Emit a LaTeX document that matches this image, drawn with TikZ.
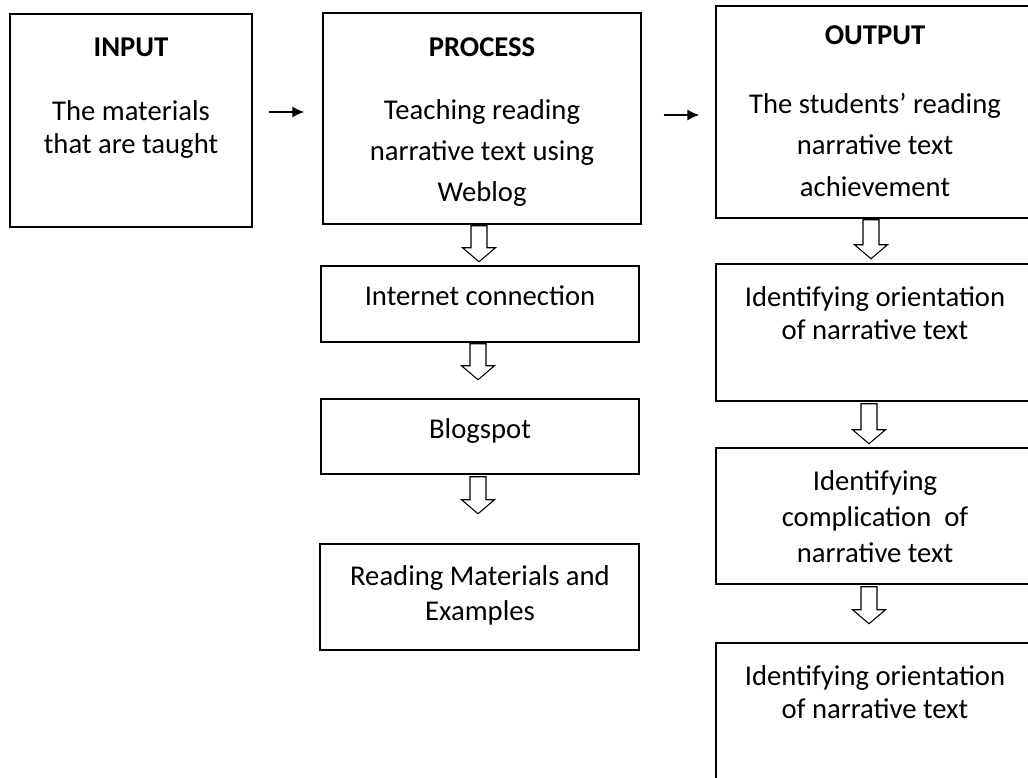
\documentclass[tikz,border=0pt]{standalone}
\usepackage{fontspec}
\setmainfont{Carlito}
\usetikzlibrary{fit,arrows.meta}
\tikzset{
  box/.style={draw, line width=1.1pt, inner sep=0pt},
  txt/.style={align=center, inner sep=0pt, execute at begin node=\strut, execute at end node=\strut},
  head/.style={anchor=base, inner sep=0pt, font=\fontsize{21.5}{26}\selectfont\bfseries},
  line/.style={anchor=base, inner sep=0pt, font=\fontsize{21.5}{26}\selectfont},
  flow/.style={line width=1.4pt, -{Latex[length=9pt,width=8.5pt]}},
  hollow/.style={line width=0.8pt, line join=miter}
}
\newcommand\fs[1]{\fontsize{21.5}{#1}\selectfont}
% hollow down arrow: #1 top point, #2 length
\newcommand\hollowarrow[2]{%
  \draw[hollow] (#1) ++(-8,0) -- ++(0,#2-14) -- ++(-8.5,0) -- ++(16.5,14) -- ++(16.5,-14) -- ++(-8.5,0) -- ++(0,14-#2) -- cycle;}
\begin{document}
\begin{tikzpicture}[x=0.75pt,y=-0.75pt]
\useasboundingbox (0,0) rectangle (1028,778);
%% input
\node[box, fit={(10,14) (252,227)}] (inbox) {};
\node[head] (inhead) at (131,56) {INPUT};
\node[txt, font=\fs{24.75}] (intext) at (131,132) {The materials\\that are taught};
%% process
\node[box, fit={(323,13) (641,224)}] (procbox) {};
\node[head] (prochead) at (482,56) {PROCESS};
\node[txt, font=\fs{30.75}] (proctext) at (482,157) {Teaching reading\\narrative text using\\Weblog};
\node[box, fit={(321,266) (639,342)}] (inetbox) {};
\node[line] (inettext) at (480,305) {Internet connection};
\node[box, fit={(321,399) (639,474)}] (blogbox) {};
\node[line] (blogtext) at (480,438) {Blogspot};
\node[box, fit={(320,544) (639,650)}] (readbox) {};
\node[txt, font=\fs{26.25}] (readtext) at (480,598) {Reading Materials and\\Examples};
%% output
\node[box, fit={(716,6) (1034,218)}] (outbox) {};
\node[head] (outhead) at (875,44) {OUTPUT};
\node[txt, font=\fs{31}] (outtext) at (875,151) {The students’ reading\\narrative text\\achievement};
\node[box, fit={(716,264) (1034,401)}] (orientbox) {};
\node[txt, font=\fs{24.75}] (orienttext) at (875,317.5) {Identifying orientation\\of narrative text};
\node[box, fit={(716,448) (1034,584)}] (complbox) {};
\node[txt, font=\fs{27}] (compltext) at (875,522) {Identifying\\complication~ of\\narrative text};
\node[box, fit={(716,643) (1034,800)}] (lastbox) {};
\node[txt, font=\fs{24.75}] (lasttext) at (875,697) {Identifying orientation\\of narrative text};
%% black arrows
\draw[flow] ([shift={(16,-8.5)}]inbox.east) -- ([shift={(-18,-6.5)}]procbox.west);
\draw[flow] ([shift={(22,-3.5)}]procbox.east) -- ([shift={(-16,3)}]outbox.west);
%% hollow arrows
\hollowarrow{[shift={(-3,1)}]procbox.south}{36}
\hollowarrow{[shift={(-2,1)}]inetbox.south}{36}
\hollowarrow{[shift={(-2,2)}]blogbox.south}{37}
\hollowarrow{[shift={(-4,1)}]outbox.south}{39}
\hollowarrow{[shift={(-6,2)}]orientbox.south}{40}
\hollowarrow{[shift={(-6,2)}]complbox.south}{37}
\end{tikzpicture}
\end{document}
